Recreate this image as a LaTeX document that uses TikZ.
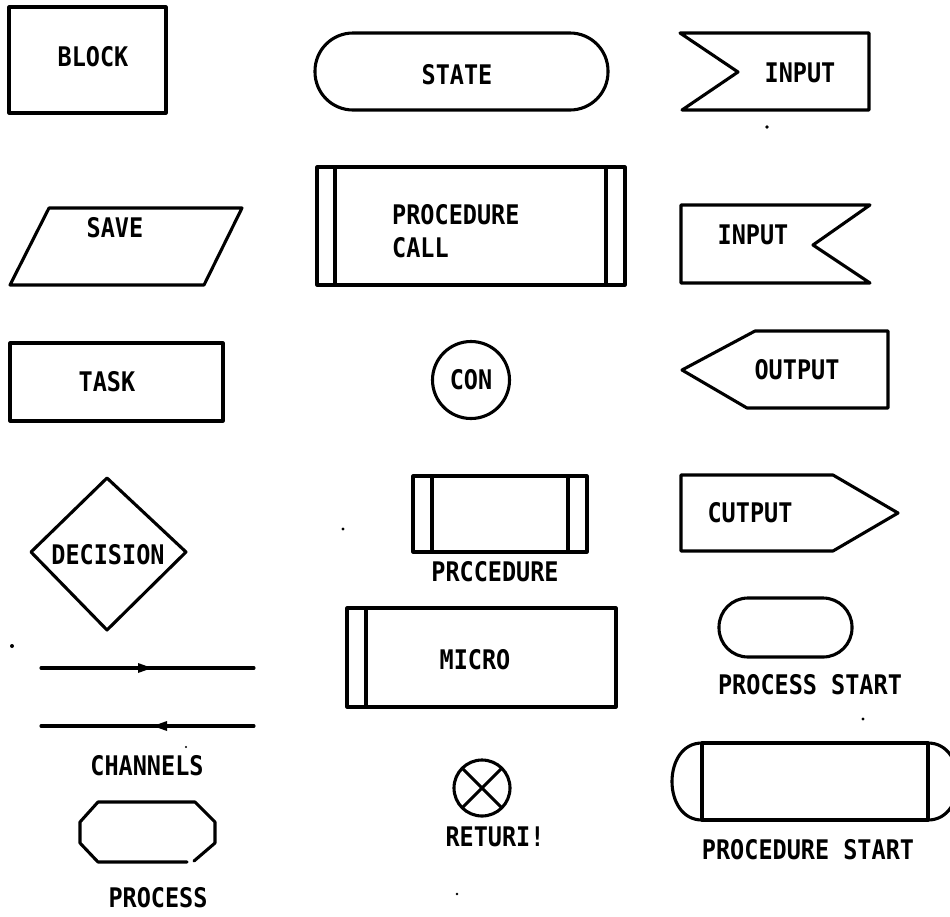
\documentclass[tikz,border=0pt]{standalone}
\usepackage{fontspec}
\setmonofont{DejaVu Sans Mono}[FakeStretch=0.87]
\begin{document}
\begin{tikzpicture}[x=1pt,y=-1pt,
  shp/.style={line width=3.1pt, line join=round, line cap=round},
  lbl/.style={font=\ttfamily\bfseries\fontsize{27}{33}\selectfont, inner sep=0pt, anchor=center},
  speck/.style={fill=black}]
\useasboundingbox (0,0) rectangle (950,916);

% ---- left column
\draw[shp] (9,7) rectangle (166,113);
\node[lbl] (block) at (93,57) {BLOCK};

\draw[shp] (49,208) -- (242,208) -- (204,285) -- (10,285) -- cycle;
\node[lbl] (save) at (115,228) {SAVE};

\draw[shp] (10,343) rectangle (223,421);
\node[lbl] (task) at (107,382) {TASK};

\draw[shp] (107,478) -- (186,552) -- (107,630) -- (31,552) -- cycle;
\node[lbl] (decision) at (108,555) {DECISION};

\coordinate (c1a) at (41,668); \coordinate (c1b) at (254,668);
\draw[shp] (c1a) -- (c1b);
\fill (138,663) -- (152,668) -- (138,673) -- cycle;
\coordinate (c2a) at (41,726); \coordinate (c2b) at (254,726);
\draw[shp] (c2a) -- (c2b);
\fill (167,721) -- (153,726) -- (167,731) -- cycle;
\node[lbl] (channels) at (147,766) {CHANNELS};

\draw[shp] (187,862) -- (98,862) -- (80,843) -- (80,822) -- (98,802) -- (195,802) -- (215,822) -- (215,843) -- (194,861);
\node[lbl] (process) at (158,898) {PROCESS};

% ---- middle column
\draw[shp, rounded corners=38] (315,33) rectangle (608,110);
\node[lbl] (state) at (457,75) {STATE};

\draw[shp] (317,167) rectangle (625,285);
\draw[shp] (335,167) -- (335,285);
\draw[shp] (606,167) -- (606,285);
\node[lbl, anchor=west] (pcall1) at (392,215) {PROCEDURE};
\node[lbl, anchor=west] (pcall2) at (392,248) {CALL};

\draw[shp] (471,380) circle (38.5);
\node[lbl] (con) at (471,380) {CON};

\draw[shp] (413,476) rectangle (587,552);
\draw[shp] (432,476) -- (432,552);
\draw[shp] (568,476) -- (568,552);
\node[lbl] (proc) at (495,572) {PRCCEDURE};

\draw[shp] (347,608) rectangle (616,707);
\draw[shp] (366,608) -- (366,707);
\node[lbl] (micro) at (475,660) {MICRO};

\draw[shp] (482,788) circle (28);
\draw[shp] (462.2,768.2) -- (501.8,807.8);
\draw[shp] (501.8,768.2) -- (462.2,807.8);
\node[lbl] (ret) at (495,837) {RETURI!};

% ---- right column
\draw[shp] (680,33) -- (869,33) -- (869,110) -- (682,110) -- (738,72) -- cycle;
\node[lbl] (input1) at (800,73) {INPUT};

\draw[shp] (681,205) -- (870,205) -- (813,245) -- (870,283) -- (681,283) -- cycle;
\node[lbl] (input2) at (753,235) {INPUT};

\draw[shp] (682,370) -- (755,331) -- (888,331) -- (888,408) -- (747,408) -- cycle;
\node[lbl] (output1) at (797,370) {OUTPUT};

\draw[shp] (681,475) -- (833,475) -- (898,513) -- (833,551) -- (681,551) -- cycle;
\node[lbl] (output2) at (750,513) {CUTPUT};

\draw[shp, rounded corners=29] (719,598) rectangle (852,657);
\node[lbl] (pstart) at (810,685) {PROCESS START};

\draw[shp] (702,743) rectangle (928,820);
\draw[shp] (702,743) .. controls (662,743) and (662,820) .. (702,820);
\draw[shp] (928,743) .. controls (968,743) and (968,820) .. (928,820);
\node[lbl] (prstart) at (808,850) {PROCEDURE START};

% ---- specks
\fill[speck] (767,127) circle (1.8);
\fill[speck] (12,646) circle (2);
\fill[speck] (343,529) circle (1.6);
\fill[speck] (863,719) circle (1.6);
\fill[speck] (457,894) circle (1.4);
\fill[speck] (186,747) circle (1.2);
\end{tikzpicture}
\end{document}
